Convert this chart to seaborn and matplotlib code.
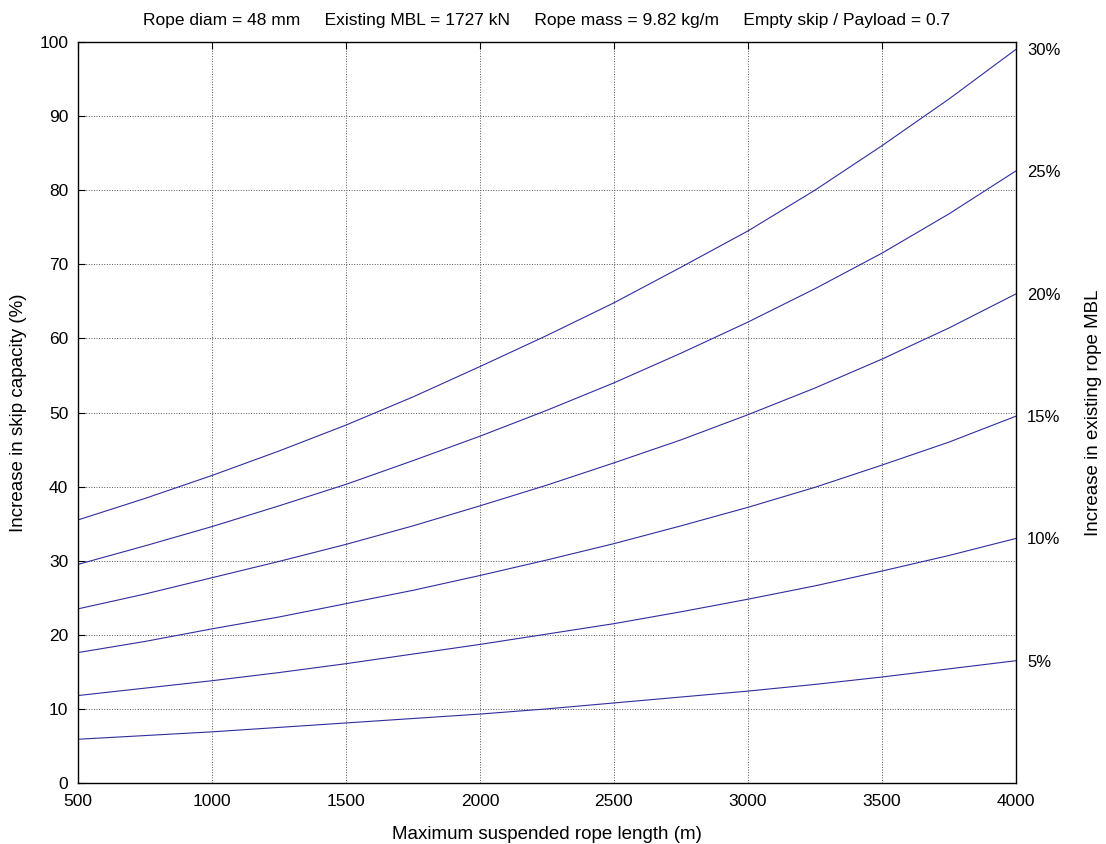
import matplotlib
matplotlib.use("Agg")
import matplotlib.pyplot as plt
import seaborn as sns
import pandas as pd

# Data
rope_length = [500, 750, 1000, 1250, 1500, 1750, 2000, 2250,
               2500, 2750, 3000, 3250, 3500, 3750, 4000]
mbl_increase = ["5%", "10%", "15%", "20%", "25%", "30%"]
cap_5 = [5.9, 6.4, 6.9, 7.5, 8.1, 8.7, 9.3, 10.0, 10.8, 11.6, 12.4, 13.3, 14.3, 15.4, 16.5]
cap_10 = [11.8, 12.8, 13.8, 14.9, 16.1, 17.4, 18.7, 20.1, 21.5, 23.1, 24.8, 26.6, 28.6, 30.7, 33.0]
cap_15 = [17.6, 19.1, 20.8, 22.4, 24.2, 26.0, 28.0, 30.1, 32.3, 34.7, 37.2, 39.9, 42.9, 46.0, 49.5]
cap_20 = [23.5, 25.5, 27.7, 29.9, 32.2, 34.7, 37.4, 40.2, 43.2, 46.3, 49.7, 53.3, 57.2, 61.4, 66.0]
cap_25 = [29.5, 32.0, 34.6, 37.4, 40.3, 43.5, 46.8, 50.3, 54.0, 58.0, 62.2, 66.7, 71.5, 76.8, 82.6]
cap_30 = [35.5, 38.4, 41.5, 44.8, 48.3, 52.1, 56.2, 60.4, 64.8, 69.6, 74.5, 80.0, 86.0, 92.3, 99.0]
series = [cap_5, cap_10, cap_15, cap_20, cap_25, cap_30]

rows = []
for lab, vals in zip(mbl_increase, series):
    for x, y in zip(rope_length, vals):
        rows.append({"length": x, "capacity": y, "mbl": lab})
df = pd.DataFrame(rows)

sns.set_style("white")
plt.rcParams['font.family'] = ['Liberation Sans', 'DejaVu Sans']
plt.rcParams['text.color'] = 'black'
plt.rcParams['axes.labelcolor'] = 'black'
plt.rcParams['xtick.color'] = 'black'
plt.rcParams['ytick.color'] = 'black'

fig = plt.figure(figsize=(11.06, 8.44), dpi=100)
ax = fig.add_axes([0.0705, 0.0723, 0.848, 0.8779])

line_color = "#2e2e9e"
sns.lineplot(data=df, x="length", y="capacity", units="mbl", estimator=None,
             color=line_color, linewidth=0.8, ax=ax, legend=False)

ax.set_xlim(500, 4000)
ax.set_ylim(0, 100)
ax.set_xticks(range(500, 4001, 500))
ax.set_yticks(range(0, 101, 10))
ax.grid(True, linestyle=':', color='#555555', linewidth=0.7)
for s in ax.spines.values():
    s.set_color('black')
    s.set_linewidth(1.0)
ax.tick_params(axis='both', direction='in', length=5, width=0.8, labelsize=12.5,
               top=True, right=True, colors='black')
ax.tick_params(axis='x', pad=8)
ax.tick_params(axis='y', pad=7)
ax.set_xlabel("Maximum suspended rope length (m)", fontsize=13.5, labelpad=12, color='black')
ax.set_ylabel("Increase in skip capacity (%)", fontsize=13.5, labelpad=9, color='black')
ax.set_title("Rope diam = 48 mm     Existing MBL = 1727 kN     Rope mass = 9.82 kg/m     Empty skip / Payload = 0.7",
             fontsize=12.5, pad=12, color='black')

ax2 = ax.twinx()
ax2.set_ylim(ax.get_ylim())
ax2.set_yticks([v[-1] for v in series])
ax2.set_yticklabels(mbl_increase)
ax2.tick_params(axis='y', length=0, labelsize=12, pad=8, colors='black')
ax2.set_ylabel("Increase in existing rope MBL", fontsize=13.5, labelpad=18, color='black')
for s in ax2.spines.values():
    s.set_visible(False)

fig.savefig("out.png", dpi=100, facecolor='white')
